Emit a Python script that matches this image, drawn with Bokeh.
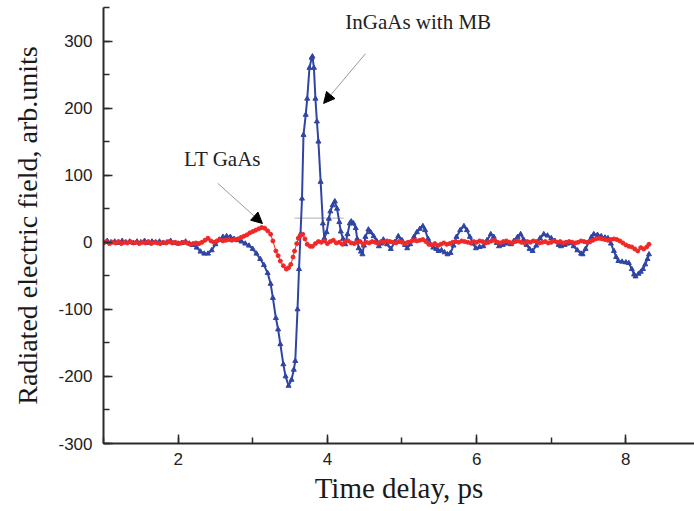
from bokeh.plotting import figure
from bokeh.models import Range1d, SingleIntervalTicker, Label, Arrow, NormalHead, PrintfTickFormatter
from bokeh.embed import file_html
from bokeh.resources import INLINE

# InGaAs with MB (blue)
ingaas_t = [1.00, 1.05, 1.10, 1.15, 1.20, 1.25, 1.30, 1.35, 1.40, 1.45, 1.50, 1.55, 1.60, 1.65, 1.70,
            1.75, 1.80, 1.85, 1.90, 1.95, 2.00, 2.05, 2.10, 2.15, 2.20, 2.25, 2.30, 2.35, 2.40, 2.45,
            2.50, 2.55, 2.60, 2.65, 2.70, 2.75, 2.80, 2.85, 2.90, 2.95, 3.00, 3.05, 3.10, 3.15, 3.20,
            3.24, 3.27, 3.31, 3.34, 3.37, 3.41, 3.44, 3.48, 3.52, 3.55, 3.57, 3.60, 3.62, 3.64, 3.66,
            3.68, 3.71, 3.73, 3.76, 3.79, 3.80, 3.82, 3.84, 3.86, 3.88, 3.91, 3.94, 3.96, 3.99, 4.02,
            4.04, 4.07, 4.10, 4.13, 4.16, 4.18, 4.21, 4.24, 4.27, 4.30, 4.32, 4.35, 4.38, 4.40, 4.42,
            4.45, 4.47, 4.49, 4.51, 4.55, 4.58, 4.62, 4.66, 4.69, 4.72, 4.75, 4.80, 4.85, 4.90, 4.95,
            5.00, 5.04, 5.07, 5.11, 5.16, 5.20, 5.24, 5.28, 5.31, 5.35, 5.38, 5.42, 5.46, 5.49, 5.53,
            5.57, 5.61, 5.65, 5.69, 5.73, 5.78, 5.83, 5.87, 5.91, 5.95, 5.99, 6.04, 6.09, 6.14, 6.19,
            6.23, 6.27, 6.30, 6.35, 6.40, 6.46, 6.50, 6.55, 6.59, 6.63, 6.67, 6.71, 6.75, 6.80, 6.85,
            6.90, 6.95, 7.00, 7.05, 7.10, 7.13, 7.18, 7.22, 7.26, 7.30, 7.35, 7.40, 7.42, 7.46, 7.50,
            7.54, 7.57, 7.62, 7.67, 7.72, 7.76, 7.80, 7.84, 7.87, 7.90, 7.95, 8.00, 8.04, 8.08, 8.11,
            8.13, 8.17, 8.20, 8.23, 8.26, 8.29, 8.31]
ingaas_e = [0, 2, 0, 1, -1, 2, 0, 1, -1, 1, 0, 2, -1, 1, 0,
            1, -1, 0, 2, -1, -2, -1, 1, -2, -4, -8, -14, -17, -17, -12,
            -3, 4, 8, 9, 8, 5, 3, 1, -2, -5, -10, -17, -25, -34, -46,
            -62, -83, -113, -130, -152, -182, -200, -214, -205, -190, -177, -100, -40, 12, 65,
            160, 190, 214, 260, 275, 277, 260, 214, 180, 150, 90, 28, 6, 15, 35,
            46, 55, 61, 50, 30, 16, 5, -3, 12, 28, 31, 28, 21, 5, -9,
            -14, -18, -5, 8, 19, 15, 9, 2, -6, -2, 4, -3, -10, 0, 9,
            3, -4, -9, -3, 8, 15, 20, 24, 18, 5, -3, -8, -10, -13, -12,
            -15, -18, -16, -5, 8, 18, 24, 18, 8, -2, -9, -7, -6, 3, 12,
            8, -1, -6, -4, -2, -3, 2, 8, 12, 4, -4, -10, -13, -5, 6,
            12, 10, 6, 2, -4, -6, -4, -2, -1, -6, -12, -17, -18, -10, 0,
            8, 12, 11, 9, 7, 6, -2, -13, -22, -28, -29, -30, -31, -40, -48,
            -51, -47, -44, -40, -33, -25, -18]

# LT GaAs (red)
ltgaas_t = [1.00, 1.04, 1.08, 1.12, 1.16, 1.20, 1.24, 1.28, 1.32, 1.36, 1.40, 1.44, 1.48, 1.52, 1.56,
            1.60, 1.64, 1.68, 1.72, 1.76, 1.80, 1.84, 1.88, 1.92, 1.96, 2.00, 2.04, 2.08, 2.12, 2.16,
            2.20, 2.24, 2.28, 2.32, 2.36, 2.40, 2.44, 2.48, 2.52, 2.56, 2.60, 2.64, 2.68, 2.72, 2.76,
            2.80, 2.84, 2.88, 2.92, 2.96, 3.00, 3.04, 3.08, 3.12, 3.16, 3.20, 3.24, 3.27, 3.31, 3.34,
            3.37, 3.41, 3.45, 3.48, 3.51, 3.54, 3.56, 3.59, 3.61, 3.64, 3.67, 3.70, 3.73, 3.77, 3.80,
            3.84, 3.88, 3.92, 3.96, 4.00, 4.04, 4.08, 4.12, 4.16, 4.20, 4.24, 4.28, 4.32, 4.36, 4.40,
            4.44, 4.48, 4.52, 4.56, 4.60, 4.64, 4.68, 4.72, 4.76, 4.80, 4.84, 4.88, 4.92, 4.96, 5.00,
            5.04, 5.08, 5.12, 5.16, 5.20, 5.24, 5.28, 5.32, 5.36, 5.40, 5.44, 5.48, 5.52, 5.56, 5.60,
            5.64, 5.68, 5.72, 5.76, 5.80, 5.84, 5.88, 5.92, 5.96, 6.00, 6.04, 6.08, 6.12, 6.16, 6.20,
            6.24, 6.28, 6.32, 6.36, 6.40, 6.44, 6.48, 6.52, 6.56, 6.60, 6.64, 6.68, 6.72, 6.76, 6.80,
            6.84, 6.88, 6.92, 6.96, 7.00, 7.04, 7.08, 7.12, 7.16, 7.20, 7.24, 7.28, 7.32, 7.36, 7.40,
            7.44, 7.48, 7.52, 7.56, 7.60, 7.64, 7.68, 7.72, 7.76, 7.80, 7.84, 7.88, 7.92, 7.96, 8.00,
            8.04, 8.08, 8.12, 8.16, 8.20, 8.24, 8.28, 8.31]
ltgaas_e = [-1, 1, -2, 0, -1, 1, -2, 0, -1, 1, -1, 0, -2, 0, -1,
            1, -2, 0, -1, -2, 0, -1, 1, -1, 0, -2, -1, 0, -1, -3,
            -2, -1, -2, 0, 3, 6, 2, 0, 2, 4, 2, 3, 4, 3, 4,
            5, 7, 9, 11, 14, 16, 18, 20, 22, 21, 17, 12, 2, -13, -20,
            -28, -35, -40, -38, -33, -22, -13, -2, 6, 10, 12, 5, -3, -6, -6,
            -2, 1, 0, 2, -2, 1, 3, -1, 0, -3, 1, 2, -1, -2, 0,
            1, -3, 0, -1, 1, 0, -2, 1, 0, 2, 1, 0, -1, 1, 0,
            -2, 0, 1, 3, 2, 3, 4, 1, -3, -4, -2, -5, -3, -1, -3,
            -2, 0, 1, 0, 2, 1, 0, -1, 1, 0, 2, 1, -1, 0, 2,
            3, 0, -1, 1, 2, 0, -1, 1, 2, 0, -1, 1, 0, 2, 1,
            -1, 0, 1, -1, 0, 2, 0, 1, -1, 0, 1, 0, -1, 0, 2,
            1, 0, 1, 3, 5, 6, 5, 4, 3, 4, 5, 4, 2, -1, -4,
            -6, -7, -10, -13, -8, -10, -7, -3]

# stray gray line seen in the original
stray_t = [3.56, 4.22]
stray_e = [36, 36]

BLUE = "#3045a3"
RED = "#f02828"
AX = "#2a2a2a"

p = figure(width=694, height=510, output_backend="svg", toolbar_location=None,
           x_range=Range1d(1.0, 8.92), y_range=Range1d(-300, 350),
           min_border_left=103, min_border_top=7, min_border_bottom=67, min_border_right=0)
p.outline_line_color = None
p.grid.visible = False
p.background_fill_color = "white"

p.line(stray_t, stray_e, line_color="#b0b0b0", line_width=1)

p.line(ingaas_t, ingaas_e, line_color=BLUE, line_width=2)
p.scatter(ingaas_t, ingaas_e, marker="triangle", size=5, fill_color=BLUE, line_color=BLUE)

p.line(ltgaas_t, ltgaas_e, line_color=RED, line_width=1)
p.scatter(ltgaas_t, ltgaas_e, marker="circle", size=4, fill_color=RED, line_color=RED)

for ax in (p.xaxis[0], p.yaxis[0]):
    ax.axis_line_color = AX
    ax.axis_line_width = 2
    ax.major_tick_line_color = AX
    ax.minor_tick_line_color = AX
    ax.major_tick_line_width = 1.5
    ax.minor_tick_line_width = 1.5
    ax.major_tick_in = 9
    ax.major_tick_out = 0
    ax.minor_tick_in = 6
    ax.minor_tick_out = 0
    ax.major_label_text_font = "Liberation Sans"
    ax.major_label_text_font_size = "17px"
    ax.major_label_text_color = "#222222"
    ax.axis_label_text_font = "Liberation Serif"
    ax.axis_label_text_font_style = "normal"
    ax.axis_label_text_color = "#1a1a1a"
    ax.formatter = PrintfTickFormatter(format="%d")

p.xaxis.axis_label_text_font_size = "29px"
p.yaxis.axis_label_text_font_size = "28px"
p.xaxis.ticker = SingleIntervalTicker(interval=2, num_minor_ticks=2)
p.yaxis.ticker = SingleIntervalTicker(interval=100, num_minor_ticks=2)
p.xaxis.axis_label = "Time delay, ps"
p.yaxis.axis_label = "Radiated electric field, arb.units"
p.xaxis.major_label_standoff = 9
p.yaxis.major_label_standoff = 11
p.xaxis.axis_label_standoff = 4
p.yaxis.axis_label_standoff = 12

p.add_layout(Label(x=2.08, y=106, text="LT GaAs", text_font="Liberation Serif",
                   text_font_size="21px", text_color="#222222"))
p.add_layout(Label(x=4.24, y=311, text="InGaAs with MB", text_font="Liberation Serif",
                   text_font_size="21px", text_color="#222222"))

p.add_layout(Arrow(x_start=2.53, y_start=88, x_end=3.13, y_end=28,
                   line_color="#999999", line_width=1,
                   end=NormalHead(size=11, fill_color="black", line_color="black")))
p.add_layout(Arrow(x_start=4.51, y_start=281, x_end=3.95, y_end=207,
                   line_color="#999999", line_width=1,
                   end=NormalHead(size=11, fill_color="black", line_color="black")))

open("out.html", "w").write(file_html(p, INLINE))
